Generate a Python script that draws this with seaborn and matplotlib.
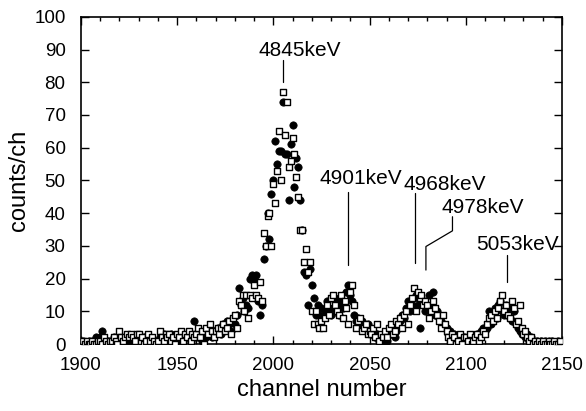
import numpy as np
import pandas as pd
import matplotlib
matplotlib.use("Agg")
import matplotlib.pyplot as plt
import seaborn as sns
from matplotlib.ticker import MultipleLocator

channels = list(range(1900, 2150))

counts_filled = [
    1, 1, 0, 0, 1, 0, 1, 1, 2, 1,
    2, 4, 1, 0, 1, 0, 0, 2, 1, 1,
    2, 1, 0, 1, 1, 0, 2, 1, 0, 0,
    1, 0, 1, 2, 0, 1, 0, 1, 0, 1,
    1, 2, 0, 3, 1, 2, 0, 3, 1, 2,
    1, 3, 2, 1, 2, 3, 2, 1, 2, 7,
    3, 2, 4, 1, 4, 2, 5, 3, 2, 4,
    3, 5, 4, 3, 6, 5, 7, 6, 4, 8,
    6, 9, 17, 12, 14, 10, 12, 11, 20, 21,
    20, 21, 13, 9, 12, 26, 30, 40, 32, 46,
    50, 62, 55, 59, 59, 74, 58, 58, 44, 61,
    67, 48, 57, 54, 44, 35, 22, 21, 12, 23,
    18, 14, 9, 12, 9, 11, 8, 10, 13, 11,
    9, 11, 14, 12, 9, 13, 11, 12, 16, 18,
    15, 13, 9, 7, 8, 6, 7, 5, 4, 6,
    5, 3, 4, 2, 3, 1, 2, 0, 3, 1,
    4, 3, 5, 2, 4, 6, 7, 9, 8, 11,
    13, 10, 12, 14, 15, 12, 5, 14, 13, 10,
    12, 15, 11, 16, 9, 10, 8, 7, 6, 5,
    5, 3, 4, 2, 3, 1, 2, 0, 1, 2,
    1, 2, 1, 0, 2, 1, 3, 2, 4, 5,
    4, 5, 10, 6, 9, 11, 8, 12, 13, 10,
    9, 12, 11, 8, 7, 10, 6, 5, 4, 3,
    4, 2, 3, 1, 2, 1, 0, 1, 0, 1,
    0, 1, 0, 1, 0, 1, 0, 0, 1, 0,
]

counts_open = [
    0, 1, 0, 1, 0, 0, 1, 0, 0, 1,
    1, 0, 2, 1, 0, 1, 1, 2, 1, 0,
    4, 2, 1, 2, 3, 2, 3, 2, 1, 3,
    3, 1, 2, 0, 1, 3, 1, 2, 1, 0,
    1, 4, 2, 1, 3, 2, 3, 1, 2, 0,
    3, 2, 4, 1, 3, 2, 4, 1, 3, 2,
    3, 5, 2, 4, 0, 5, 3, 6, 4, 2,
    4, 5, 3, 5, 6, 4, 5, 7, 3, 8,
    9, 5, 13, 12, 15, 10, 15, 8, 15, 14,
    18, 15, 14, 19, 13, 34, 30, 39, 40, 30,
    49, 43, 53, 65, 50, 77, 64, 74, 54, 56,
    63, 58, 51, 45, 35, 35, 25, 29, 22, 25,
    10, 6, 10, 6, 5, 7, 5, 8, 12, 9,
    14, 15, 12, 10, 9, 15, 8, 13, 11, 6,
    16, 18, 12, 5, 7, 8, 4, 5, 6, 3,
    4, 3, 5, 2, 6, 1, 3, 2, 4, 2,
    5, 6, 3, 4, 7, 6, 8, 5, 9, 10,
    6, 12, 14, 17, 10, 16, 14, 15, 12, 13,
    12, 8, 10, 13, 11, 9, 7, 5, 9, 6,
    4, 2, 1, 3, 2, 0, 1, 3, 0, 2,
    2, 1, 3, 0, 1, 2, 3, 1, 2, 4,
    3, 6, 8, 9, 7, 10, 8, 11, 13, 15,
    10, 12, 9, 8, 13, 11, 6, 7, 12, 5,
    3, 4, 2, 1, 2, 0, 1, 0, 1, 0,
    1, 0, 0, 1, 0, 0, 1, 0, 0, 1,
]

peak_labels = ["4845keV", "4901keV", "4968keV", "4978keV", "5053keV"]

sns.set_style("ticks")
plt.rcParams["font.family"] = ["Liberation Sans", "DejaVu Sans"]
plt.rcParams["text.color"] = "black"
plt.rcParams["axes.labelcolor"] = "black"
plt.rcParams["xtick.color"] = "black"
plt.rcParams["ytick.color"] = "black"

fig = plt.figure(figsize=(5.86, 4.11), dpi=100)
ax = fig.add_axes([0.138, 0.163, 0.821, 0.796])

df_f = pd.DataFrame({"ch": channels, "counts": counts_filled})
df_o = pd.DataFrame({"ch": channels, "counts": counts_open})

sns.scatterplot(data=df_f, x="ch", y="counts", ax=ax, marker="o", s=28,
                color="black", edgecolor="black", linewidth=0.5, zorder=3)
sns.scatterplot(data=df_o, x="ch", y="counts", ax=ax, marker="s", s=24,
                facecolor="white", edgecolor="black", linewidth=1.0, zorder=4)

ax.set_xlim(1900, 2150)
ax.set_ylim(0, 100)
ax.xaxis.set_major_locator(MultipleLocator(50))
ax.xaxis.set_minor_locator(MultipleLocator(10))
ax.yaxis.set_major_locator(MultipleLocator(10))
ax.tick_params(which="both", direction="in", top=True, right=True, width=1.0,
               labelsize=13.5, colors="black")
ax.tick_params(which="major", length=6)
ax.tick_params(which="minor", length=3)
ax.tick_params(axis="x", which="major", pad=9)
ax.tick_params(axis="y", which="major", pad=11)
for sp in ax.spines.values():
    sp.set_linewidth(1.2)
    sp.set_color("black")

ax.set_xlabel("channel number", fontsize=17, labelpad=4)
ax.set_ylabel("counts/ch", fontsize=17, labelpad=3)

# annotations
kw = dict(fontsize=15, ha="left", va="baseline", zorder=5)
ax.text(1992.5, 88.0, peak_labels[0], **kw)
ax.plot([2005, 2005], [80, 86.8], color="black", lw=0.9)
ax.text(2023.9, 48.8, peak_labels[1], **kw)
ax.plot([2039, 2039], [24.2, 46.6], color="black", lw=0.9)
ax.text(2067.9, 47.1, peak_labels[2], **kw)
ax.plot([2073.6, 2073.6], [24.7, 46.1], color="black", lw=0.9)
ax.text(2087.4, 40.0, peak_labels[3], **kw)
ax.plot([2093.1, 2093.1, 2079.3, 2079.3], [38.9, 34.6, 29.8, 22.6], color="black", lw=0.9)
ax.text(2105.6, 28.7, peak_labels[4], **kw)
ax.plot([2121.2, 2121.2], [19, 27.2], color="black", lw=0.9)

fig.savefig("out.png", dpi=100)
